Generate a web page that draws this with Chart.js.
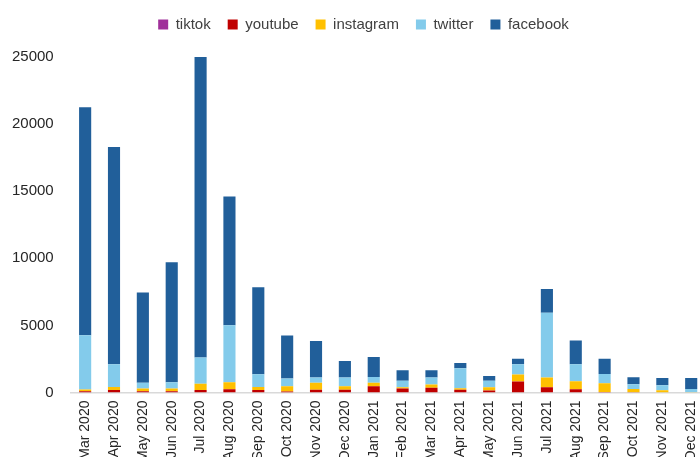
<!DOCTYPE html>
<html>
<head>
<meta charset="utf-8">
<script src="https://cdn.jsdelivr.net/npm/chart.js@4/dist/chart.umd.min.js"></script>
<style>
  html, body { margin: 0; padding: 0; background: #fff; overflow: hidden; width: 700px; height: 457px; }
  #wrap { position: absolute; left: -5px; top: 0; width: 721px; height: 470px; }
</style>
</head>
<body>
<div id="wrap"><canvas id="socialChart"></canvas></div>
<script>
const months = [
  'Mar 2020', 'Apr 2020', 'May 2020', 'Jun 2020', 'Jul 2020', 'Aug 2020', 'Sep 2020', 'Oct 2020',
  'Nov 2020', 'Dec 2020', 'Jan 2021', 'Feb 2021', 'Mar 2021', 'Apr 2021', 'May 2021', 'Jun 2021',
  'Jul 2021', 'Aug 2021', 'Sep 2021', 'Oct 2021', 'Nov 2021', 'Dec 2021'
];

const tiktok    = [0, 0, 0, 0, 0, 0, 0, 0, 0, 0, 0, 0, 0, 0, 0, 0, 0, 0, 0, 0, 0, 0];
const youtube   = [100, 180, 100, 100, 180, 250, 180, 80, 200, 200, 470, 300, 350, 200, 150, 820, 390, 250, 40, 20, 10, 0];
const instagram = [120, 240, 200, 200, 470, 520, 240, 390, 520, 270, 250, 100, 250, 120, 250, 520, 720, 590, 650, 250, 160, 20];
const twitter   = [4040, 1680, 420, 470, 1950, 4250, 940, 570, 390, 640, 440, 470, 510, 1490, 470, 760, 4830, 1260, 690, 340, 370, 250];
const facebook  = [16990, 16200, 6730, 8930, 22450, 9580, 6490, 3210, 2730, 1240, 1490, 790, 550, 390, 370, 420, 1780, 1780, 1140, 520, 540, 810];

const yTicks = [0, 5000, 10000, 15000, 20000, 25000];

const seriesNames = ['tiktok', 'youtube', 'instagram', 'twitter', 'facebook'];
const seriesData = [tiktok, youtube, instagram, twitter, facebook];
const seriesColors = ['#A0309A', '#C00000', '#FFC000', '#83CBEB', '#215F9A'];

// push the plot down a bit below the legend, nudge legend right
const legendGap = {
  id: 'legendGap',
  beforeInit(chart) {
    const fit = chart.legend.fit;
    chart.legend.fit = function () {
      fit.bind(chart.legend)();
      this.height += 15;
    };
  },
  afterLayout(chart) {
    chart.legend.left += 8;
    chart.legend.right += 8;
  }
};

const ctx = document.getElementById('socialChart');

new Chart(ctx, {
  type: 'bar',
  data: {
    labels: months,
    datasets: seriesNames.map((name, i) => ({
      label: name,
      data: seriesData[i],
      backgroundColor: seriesColors[i],
      borderWidth: 0,
      barPercentage: 0.42,
      categoryPercentage: 1
    }))
  },
  options: {
    responsive: true,
    maintainAspectRatio: false,
    animation: false,
    layout: { padding: { left: 0, top: 0, right: 0, bottom: 0 } },
    plugins: {
      legend: {
        position: 'top',
        labels: {
          boxWidth: 10,
          boxHeight: 10,
          padding: 17,
          color: '#404040',
          font: { family: 'Liberation Sans', size: 15 }
        }
      },
      tooltip: { enabled: false }
    },
    scales: {
      x: {
        stacked: true,
        grid: { display: false, drawTicks: false },
        border: { display: true, color: '#d9d9d9', width: 1.5 },
        ticks: {
          autoSkip: false,
          minRotation: 90,
          maxRotation: 90,
          padding: 8,
          color: '#262626',
          font: { family: 'Liberation Sans', size: 14 }
        }
      },
      y: {
        stacked: true,
        min: 0,
        max: 25000,
        afterBuildTicks: axis => { axis.ticks = yTicks.map(v => ({ value: v })); },
        grid: { display: false, drawTicks: false },
        border: { display: false },
        ticks: {
          padding: 17,
          color: '#262626',
          font: { family: 'Liberation Sans', size: 15 },
          callback: v => String(v)
        }
      }
    }
  },
  plugins: [legendGap]
});
</script>
</body>
</html>
